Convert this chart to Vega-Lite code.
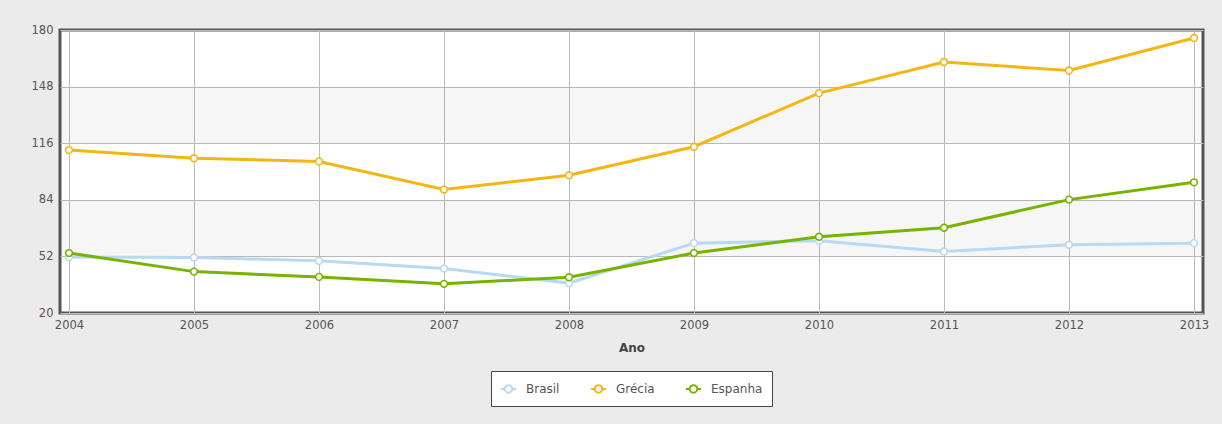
{
  "$schema": "https://vega.github.io/schema/vega-lite/v6.json",
  "width": 1143,
  "height": 283,
  "autosize": {"type": "none"},
  "padding": {"left": 60, "top": 30, "right": 19, "bottom": 111},
  "background": "#ebebeb",
  "datasets": {
    "series": [
      {"country": "Brasil", "year": 2004, "value": 51.6},
      {"country": "Brasil", "year": 2005, "value": 51.4},
      {"country": "Brasil", "year": 2006, "value": 49.5},
      {"country": "Brasil", "year": 2007, "value": 45.1},
      {"country": "Brasil", "year": 2008, "value": 36.9},
      {"country": "Brasil", "year": 2009, "value": 59.5},
      {"country": "Brasil", "year": 2010, "value": 60.9},
      {"country": "Brasil", "year": 2011, "value": 54.8},
      {"country": "Brasil", "year": 2012, "value": 58.6},
      {"country": "Brasil", "year": 2013, "value": 59.5},
      {"country": "Grécia", "year": 2004, "value": 112.1},
      {"country": "Grécia", "year": 2005, "value": 107.5},
      {"country": "Grécia", "year": 2006, "value": 105.7},
      {"country": "Grécia", "year": 2007, "value": 89.8},
      {"country": "Grécia", "year": 2008, "value": 97.9},
      {"country": "Grécia", "year": 2009, "value": 114.0},
      {"country": "Grécia", "year": 2010, "value": 144.3},
      {"country": "Grécia", "year": 2011, "value": 161.9},
      {"country": "Grécia", "year": 2012, "value": 157.1},
      {"country": "Grécia", "year": 2013, "value": 175.5},
      {"country": "Espanha", "year": 2004, "value": 53.9},
      {"country": "Espanha", "year": 2005, "value": 43.4},
      {"country": "Espanha", "year": 2006, "value": 40.4},
      {"country": "Espanha", "year": 2007, "value": 36.5},
      {"country": "Espanha", "year": 2008, "value": 40.2},
      {"country": "Espanha", "year": 2009, "value": 53.9},
      {"country": "Espanha", "year": 2010, "value": 63.1},
      {"country": "Espanha", "year": 2011, "value": 68.2},
      {"country": "Espanha", "year": 2012, "value": 84.1},
      {"country": "Espanha", "year": 2013, "value": 93.9}
    ],
    "bands": [
      {"lo": 116, "hi": 148},
      {"lo": 52, "hi": 84}
    ]
  },
  "config": {
    "font": "DejaVu Sans",
    "view": {"fill": "white", "stroke": "#555555", "strokeWidth": 3},
    "axis": {
      "labelFont": "DejaVu Sans",
      "labelFontSize": 11.5,
      "labelColor": "#555555",
      "domain": false,
      "ticks": false,
      "gridColor": "#bdbdbd",
      "gridWidth": 1,
      "gridOpacity": 1
    }
  },
  "layer": [
    {
      "data": {"name": "bands"},
      "mark": {"type": "rect", "fill": "black", "opacity": 0.035},
      "encoding": {
        "y": {"field": "lo", "type": "quantitative", "scale": {"domain": [20, 180], "nice": false, "zero": false}},
        "y2": {"field": "hi"}
      }
    },
    {
      "data": {"name": "series"},
      "encoding": {
        "x": {
          "field": "year",
          "type": "quantitative",
          "scale": {"domain": [2004, 2013], "nice": false, "zero": false, "padding": 9},
          "axis": {
            "values": [2004, 2005, 2006, 2007, 2008, 2009, 2010, 2011, 2012, 2013],
            "format": "d",
            "labelPadding": 6,
            "title": "Ano",
            "titleFont": "DejaVu Sans",
            "titleFontSize": 12,
            "titleFontWeight": "bold",
            "titleColor": "#444444",
            "titlePadding": 12
          }
        },
        "y": {
          "field": "value",
          "type": "quantitative",
          "scale": {"domain": [20, 180], "nice": false, "zero": false},
          "axis": {
            "values": [20, 52, 84, 116, 148, 180],
            "labelPadding": 7,
            "title": null
          }
        },
        "color": {
          "field": "country",
          "type": "nominal",
          "scale": {"domain": ["Brasil", "Grécia", "Espanha"], "range": ["#b9d9f3", "#f2b714", "#77b300"]},
          "legend": {
            "title": null,
            "orient": "none",
            "legendX": 431,
            "legendY": 341,
            "direction": "horizontal",
            "fillColor": "white",
            "strokeColor": "#444444",
            "padding": 9,
            "labelFont": "DejaVu Sans",
            "labelFontSize": 12,
            "labelColor": "#555555",
            "labelOffset": 9,
            "columnPadding": 27,
            "symbolType": "M-1,0L-0.5,0M0.5,0L1,0M0.5,0A0.5,0.5,0,1,1,-0.5,0A0.5,0.5,0,1,1,0.5,0Z",
            "symbolSize": 225,
            "symbolStrokeWidth": 2,
            "symbolFillColor": "white"
          }
        }
      },
      "layer": [
        {
          "mark": {"type": "line", "strokeWidth": 3},
          "encoding": {
            "strokeWidth": {
              "condition": {"test": "datum.country === 'Brasil'", "value": 4},
              "value": 3
            }
          }
        },
        {
          "mark": {"type": "point", "shape": "circle", "filled": false, "fill": "white", "fillOpacity": 1, "opacity": 1, "size": 45, "strokeWidth": 1.6}
        }
      ]
    }
  ]
}
